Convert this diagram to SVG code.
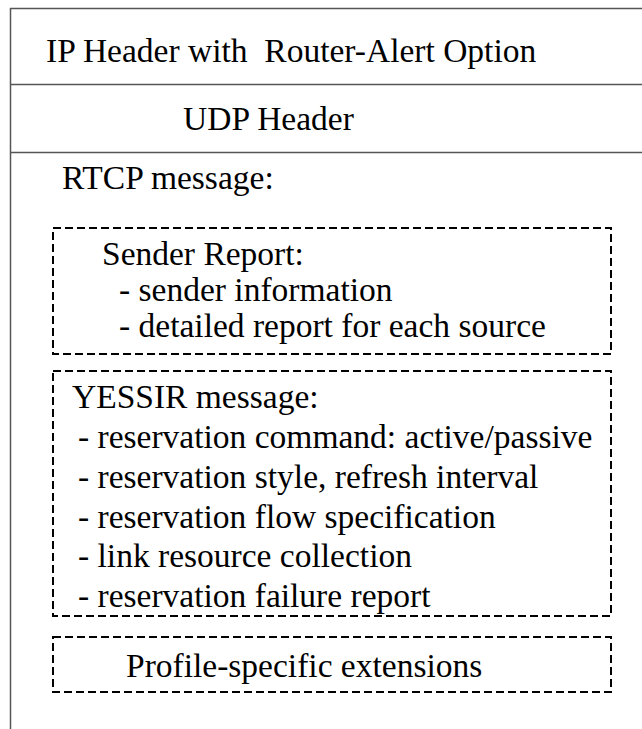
<svg xmlns="http://www.w3.org/2000/svg" width="642" height="729" viewBox="0 0 642 729">
<style>
text{font-family:'Liberation Serif','Times New Roman',Times,'DejaVu Serif',serif;font-size:33.5px;fill:#000}
.solid{stroke:#555;stroke-width:1.5;fill:none}
.dash{stroke:#000;stroke-width:2;stroke-dasharray:8,4;fill:none}
</style>
<rect width="642" height="729" fill="#fff"/>
<g id="frame">
<line class="solid" x1="10" y1="8.5" x2="642" y2="8.5"/>
<line class="solid" x1="10.5" y1="8" x2="10.5" y2="729"/>
</g>
<g font-family="Liberation Serif, Times New Roman, serif" font-size="33.5">
<g id="ip-header">
<line class="solid" x1="10" y1="84.5" x2="642" y2="84.5"/>
<text x="46" y="62" xml:space="preserve">IP Header with  Router-Alert Option</text>
</g>
<g id="udp-header">
<line class="solid" x1="10" y1="152.5" x2="642" y2="152.5"/>
<text x="183" y="130">UDP Header</text>
</g>
<g id="rtcp">
<text x="62" y="189">RTCP message:</text>
</g>
<g id="sender-report">
<rect class="dash" x="53" y="228" width="558" height="126"/>
<text x="102" y="265">Sender Report:</text>
<text x="119" y="301">- sender information</text>
<text x="119" y="337">- detailed report for each source</text>
</g>
<g id="yessir">
<rect class="dash" x="53" y="371" width="558" height="245"/>
<text x="72" y="408">YESSIR message:</text>
<text x="78" y="448">- reservation command: active/passive</text>
<text x="78" y="488">- reservation style, refresh interval</text>
<text x="78" y="528">- reservation flow specification</text>
<text x="78" y="567">- link resource collection</text>
<text x="78" y="607">- reservation failure report</text>
</g>
<g id="profile">
<rect class="dash" x="53" y="637" width="558" height="55"/>
<text x="126" y="677">Profile-specific extensions</text>
</g>
</g>
<g id="connectors"/>
</svg>
